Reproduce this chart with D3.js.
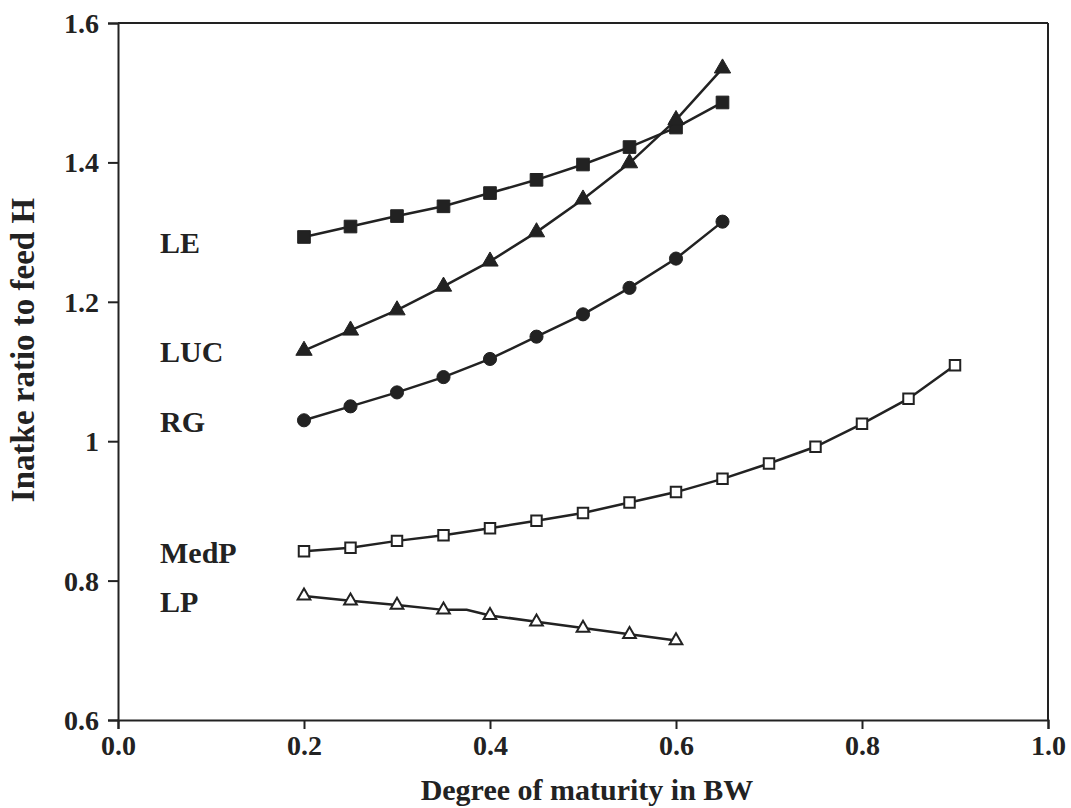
<!DOCTYPE html>
<html><head><meta charset="utf-8">
<script src="https://cdn.jsdelivr.net/npm/d3@7"></script>
<style>body{margin:0;background:#fff}svg{display:block}text{font-family:"Liberation Serif","Times New Roman",serif;font-weight:bold;fill:#222}</style>
</head><body><svg id="c" width="1071" height="808"></svg>
<script>
const xTicks=[0.0,0.2,0.4,0.6,0.8,1.0];
const yTicks=[0.6,0.8,1.0,1.2,1.4,1.6];
const xA=[0.2,0.25,0.3,0.35,0.4,0.45,0.5,0.55,0.6,0.65];
const LE=[1.293,1.308,1.323,1.337,1.356,1.375,1.397,1.422,1.450,1.486];
const LUC=[1.130,1.159,1.188,1.222,1.258,1.300,1.347,1.399,1.461,1.535];
const RG=[1.030,1.050,1.070,1.092,1.118,1.150,1.182,1.220,1.262,1.315];
const xMed=[0.2,0.25,0.3,0.35,0.4,0.45,0.5,0.55,0.6,0.65,0.7,0.75,0.8,0.85,0.9];
const MedP=[0.842,0.847,0.857,0.865,0.875,0.886,0.897,0.912,0.927,0.946,0.968,0.992,1.025,1.061,1.109];
const xLP=[0.2,0.25,0.3,0.35,0.375,0.4,0.45,0.5,0.55,0.6];
const LP=[0.778,0.771,0.765,0.758,0.758,0.750,0.741,0.732,0.723,0.714];
const lpMarker=[1,1,1,1,0,1,1,1,1,1];
const labels=[{t:"LE",v:1.270},{t:"LUC",v:1.1136},{t:"RG",v:1.013},{t:"MedP",v:0.825},{t:"LP",v:0.755}];

const svg=d3.select("#c");
const x=d3.scaleLinear().domain([0,1]).range([118,1048]);
const y=d3.scaleLinear().domain([0.6,1.6]).range([720,23]);
const ink="#222";

// frame top/right
svg.append("line").attr("x1",x(0)).attr("x2",x(1)).attr("y1",y(1.6)).attr("y2",y(1.6)).attr("stroke",ink).attr("stroke-width",2);
svg.append("line").attr("x1",x(1)).attr("x2",x(1)).attr("y1",y(1.6)).attr("y2",y(0.6)).attr("stroke",ink).attr("stroke-width",2);

const gx=svg.append("g").attr("transform",`translate(0,${y(0.6)})`)
 .call(d3.axisBottom(x).tickValues(xTicks).tickFormat(d3.format(".1f")).tickSize(9).tickPadding(6));
const gy=svg.append("g").attr("transform",`translate(${x(0)},0)`)
 .call(d3.axisLeft(y).tickValues(yTicks).tickFormat(d=>d===1?"1":d3.format(".1f")(d)).tickSize(10).tickPadding(9));
[gx,gy].forEach(g=>{
 g.select(".domain").attr("stroke",ink).attr("stroke-width",2);
 g.selectAll(".tick line").attr("stroke",ink).attr("stroke-width",2);
 g.selectAll(".tick text").attr("font-size",28).attr("font-family","Liberation Serif, serif").attr("font-weight","bold").attr("fill",ink);
});
gy.selectAll(".tick text").attr("dy","0.34em");

const line=d3.line().x(d=>x(d[0])).y(d=>y(d[1]));
function series(xs,ys,sym,size,fill,mask){
 const pts=xs.map((v,i)=>[v,ys[i]]);
 svg.append("path").datum(pts).attr("d",line).attr("fill","none").attr("stroke",ink).attr("stroke-width",2.5);
 svg.append("g").selectAll("path").data(pts.filter((d,i)=>!mask||mask[i])).join("path")
  .attr("transform",d=>`translate(${x(d[0])},${y(d[1])})`)
  .attr("d",d3.symbol().type(sym).size(size))
  .attr("fill",fill).attr("stroke",ink).attr("stroke-width",fill==="#fff"?2:1);
}
series(xA,LE,d3.symbolSquare,160,ink);
series(xA,LUC,d3.symbolTriangle,115,ink);
series(xA,RG,d3.symbolCircle,135,ink);
series(xMed,MedP,d3.symbolSquare,110,"#fff");
series(xLP,LP,d3.symbolTriangle,70,"#fff",lpMarker);

svg.append("g").selectAll("text").data(labels).join("text")
 .attr("x",160).attr("y",d=>y(d.v)).attr("font-size",30).text(d=>d.t);

svg.append("text").attr("x",(x(0)+x(1))/2+4).attr("y",800).attr("text-anchor","middle").attr("font-size",30).text("Degree of maturity in BW");
svg.append("text").attr("transform",`translate(34,350) rotate(-90)`).attr("text-anchor","middle").attr("font-size",33).text("Inatke ratio to feed H");
</script></body></html>
